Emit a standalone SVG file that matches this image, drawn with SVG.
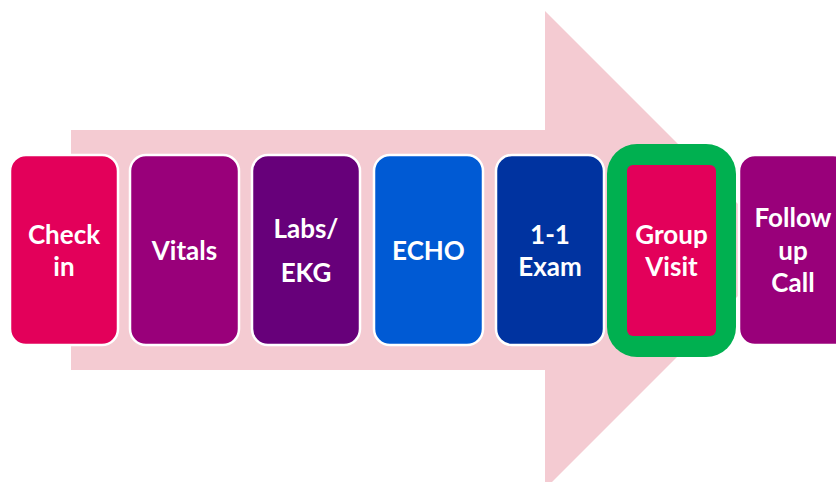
<svg xmlns="http://www.w3.org/2000/svg" width="836" height="482" viewBox="0 0 836 482">
  <style>
    .box { stroke: #ffffff; stroke-width: 2.5; }
    .lbl { font-family: Lato, "Open Sans", "Liberation Sans", sans-serif; font-weight: bold; font-size: 26px; fill: #ffffff; text-anchor: middle; dominant-baseline: central; }
  </style>
  <!-- background process arrow -->
  <polygon id="flow-arrow" points="71,130 545,130 545,11 784,250 545,489 545,370 71,370" fill="#F4CBD2"/>

  <g id="check-in">
    <rect class="box" x="10" y="155" width="108" height="190" rx="16" fill="#E3005A"/>
    <text class="lbl" x="64" y="234">Check</text>
    <text class="lbl" x="64" y="266">in</text>
  </g>
  <g id="vitals">
    <rect class="box" x="130" y="155" width="109" height="190" rx="16" fill="#99007A"/>
    <text class="lbl" x="184.5" y="250">Vitals</text>
  </g>
  <g id="labs-ekg">
    <rect class="box" x="252" y="155" width="108" height="190" rx="16" fill="#67007A"/>
    <text class="lbl" x="306" y="228">Labs/</text>
    <text class="lbl" x="306" y="272">EKG</text>
  </g>
  <g id="echo">
    <rect class="box" x="374" y="155" width="109" height="190" rx="16" fill="#005AD4"/>
    <text class="lbl" x="428.5" y="250">ECHO</text>
  </g>
  <g id="exam">
    <rect class="box" x="496" y="155" width="108" height="190" rx="16" fill="#0033A0"/>
    <text class="lbl" x="550" y="234">1-1</text>
    <text class="lbl" x="550" y="266">Exam</text>
  </g>
  <g id="group-visit">
    <rect x="607" y="144" width="129" height="213" rx="30" fill="#00B050"/>
    <rect x="627" y="165" width="89" height="171" rx="6" fill="#E3005A"/>
    <text class="lbl" x="671.5" y="234">Group</text>
    <text class="lbl" x="671.5" y="266">Visit</text>
  </g>
  <g id="follow-up">
    <rect class="box" x="739" y="155" width="110" height="190" rx="16" fill="#99007A"/>
    <text class="lbl" x="793" y="217">Follow</text>
    <text class="lbl" x="793" y="250">up</text>
    <text class="lbl" x="793" y="282">Call</text>
  </g>
  <g id="connectors"/>
</svg>
